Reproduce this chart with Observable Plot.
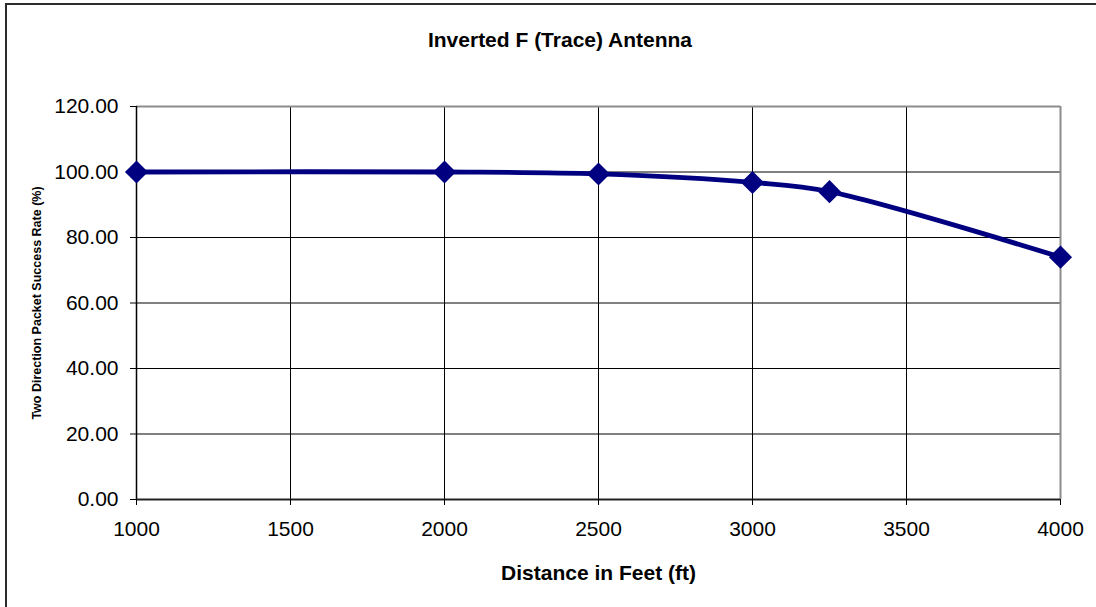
<!DOCTYPE html>
<html>
<head>
<meta charset="utf-8">
<script src="https://cdn.jsdelivr.net/npm/d3@7"></script>
<script src="https://cdn.jsdelivr.net/npm/@observablehq/plot@0.6"></script>
<style>
  html, body { margin: 0; padding: 0; background: #fff; }
  body { width: 1096px; height: 607px; position: relative; overflow: hidden; font-family: "Liberation Sans", Arial, sans-serif; }
  #frame { position: absolute; left: 5px; top: 3px; width: 1200px; height: 700px; border-left: 2px solid #2b2b2b; border-top: 2px solid #2b2b2b; z-index: 5; pointer-events: none; }
  #title { position: absolute; top: 28px; left: 0; width: 1120px; text-align: center; font-weight: bold; font-size: 21px; color: #000; z-index: 4; }
  #chart { position: absolute; top: 80px; left: 0; }
</style>
</head>
<body>
<div id="chart"></div>
<div id="title">Inverted F (Trace) Antenna</div>
<div id="frame"></div>
<script>
const distances = [1000, 2000, 2500, 3000, 3250, 4000];
const successRate = [100.0, 100.0, 99.4, 96.8, 94.0, 74.0];
const xTicks = [1000, 1500, 2000, 2500, 3000, 3500, 4000];
const yTicks = [0, 20, 40, 60, 80, 100, 120];
const xLabel = "Distance in Feet (ft)";
const yLabel = "Two Direction Packet Success Rate (%)";

const data = distances.map((d, i) => ({x: d, y: successRate[i]}));

const chart = Plot.plot({
  width: 1096,
  height: 527,
  marginLeft: 136,
  marginRight: 36,
  marginTop: 26,
  marginBottom: 108,
  style: {fontFamily: "'Liberation Sans', Arial, sans-serif", color: "#000", background: "transparent", overflow: "visible"},
  x: {domain: [1000, 4000]},
  y: {domain: [0, 120]},
  marks: [
    Plot.gridX(xTicks, {stroke: "#000", strokeOpacity: 1, strokeWidth: 1}),
    Plot.gridY(yTicks, {stroke: "#000", strokeOpacity: 1, strokeWidth: 1}),
    Plot.ruleY([120], {stroke: "#8c8c8c", strokeWidth: 2}),
    Plot.ruleX([4000], {stroke: "#8c8c8c", strokeWidth: 2}),
    Plot.ruleX([1000], {stroke: "#000", strokeWidth: 1.5}),
    Plot.ruleY([0], {stroke: "#222", strokeWidth: 2}),
    Plot.axisY({ticks: yTicks, tickFormat: d => d.toFixed(2), tickSize: 6, tickPadding: 12, fontSize: 21,
      label: yLabel, labelAnchor: "center", labelOffset: 104, labelArrow: "none"}),
    Plot.axisX({ticks: xTicks, tickFormat: d => String(d), tickSize: 6, tickPadding: 16, fontSize: 21,
      label: xLabel, labelAnchor: "center", labelOffset: 80, labelArrow: "none"}),
    Plot.line(data, {x: "x", y: "y", stroke: "#000080", strokeWidth: 4.8, curve: "catmull-rom"}),
    Plot.dot(data, {x: "x", y: "y", symbol: "diamond2", r: 10.4, fill: "#000080", stroke: "none"})
  ]
});
document.getElementById("chart").appendChild(chart);

// style axis titles
chart.querySelectorAll('g[aria-label="y-axis label"] text').forEach(t => { t.style.fontSize = "12.5px"; t.style.fontWeight = "bold"; });
chart.querySelectorAll('g[aria-label="x-axis label"] text').forEach(t => { t.style.fontSize = "21px"; t.style.fontWeight = "bold"; });
</script>
</body>
</html>
